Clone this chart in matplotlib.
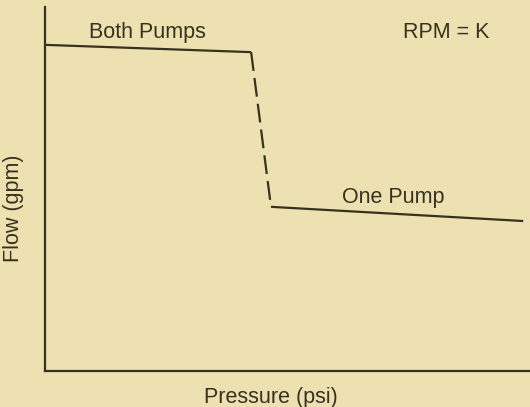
import matplotlib
matplotlib.use("Agg")
import matplotlib.pyplot as plt

plt.rcParams['font.family'] = ['Liberation Sans', 'DejaVu Sans']

# Curve points (arbitrary units, 0-100 on each axis)
both_pressure = [0.0, 42.5]
both_flow = [89.6, 87.6]
drop_pressure = [42.5, 46.6]
drop_flow = [87.6, 45.1]
one_pressure = [46.6, 98.6]
one_flow = [45.1, 41.2]

bg = '#eee1b1'
ink = '#37321f'

fig = plt.figure(figsize=(5.3, 4.07), dpi=100, facecolor=bg)
ax = fig.add_axes([45 / 530, 36 / 407, 485 / 530, 364 / 407])
ax.set_facecolor(bg)

ax.plot(both_pressure, both_flow, color=ink, lw=1.6, solid_capstyle='butt')
ax.plot(drop_pressure, drop_flow, color=ink, lw=1.6, dashes=(8.5, 3.2))
ax.plot(one_pressure, one_flow, color=ink, lw=1.6, solid_capstyle='butt')

ax.text(21.2, 92.9, "Both Pumps", fontsize=15.5, color=ink, ha='center', va='center')
ax.text(82.7, 92.9, "RPM = K", fontsize=15.5, color=ink, ha='center', va='center')
ax.text(71.8, 47.8, "One Pump", fontsize=15.5, color=ink, ha='center', va='center')

ax.set_xlim(0, 100)
ax.set_ylim(0, 100)
ax.set_xticks([])
ax.set_yticks([])
for side in ['top', 'right']:
    ax.spines[side].set_visible(False)
for side in ['left', 'bottom']:
    ax.spines[side].set_color(ink)
    ax.spines[side].set_linewidth(1.6)

fig.text(271 / 530, 1 - 398 / 407, "Pressure (psi)", fontsize=15.5, color=ink,
         ha='center', va='center')
fig.text(14 / 530, 1 - 208 / 407, "Flow (gpm)", fontsize=15.5, color=ink,
         ha='center', va='center', rotation=90)

fig.savefig("out.png", dpi=100, facecolor=bg)
